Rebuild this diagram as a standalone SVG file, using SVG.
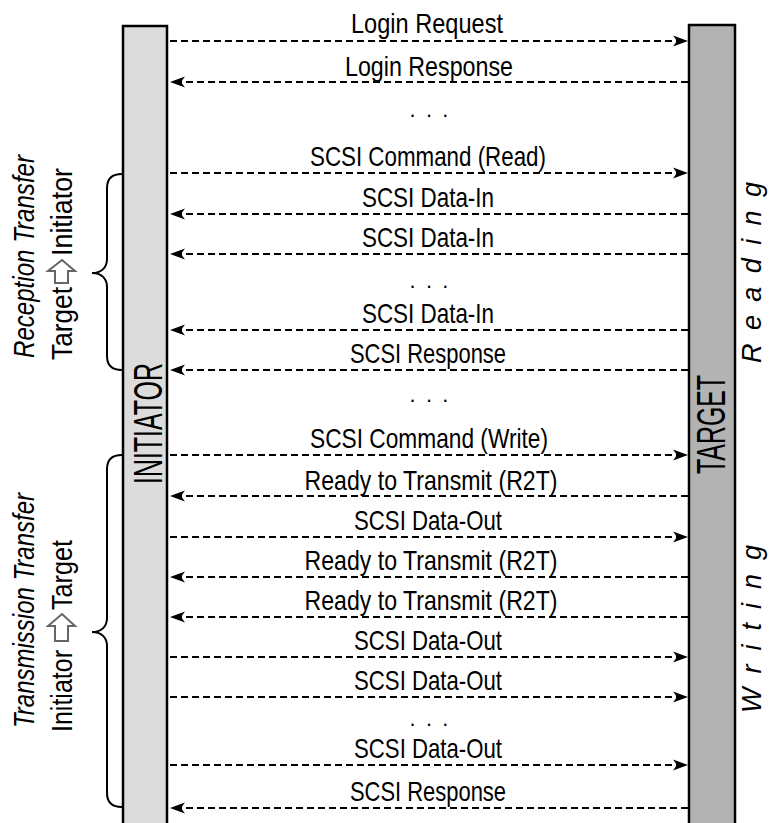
<svg xmlns="http://www.w3.org/2000/svg" width="770" height="823" viewBox="0 0 770 823">
<style>
.bar{stroke:#000;stroke-width:2.5}
.msg{font-family:"Liberation Sans",Arial,sans-serif;font-size:28.5px;fill:#000;text-anchor:middle}
.dots{font-family:"Liberation Sans",Arial,sans-serif;font-size:22px;fill:#000;text-anchor:middle;letter-spacing:2.1px}
.conn{fill:none;stroke:#000;stroke-width:2;stroke-dasharray:7 4}
.big{font-family:"Liberation Sans",Arial,sans-serif;font-size:40px;fill:#000}
.side{font-family:"Liberation Sans",Arial,sans-serif;font-size:27px;font-style:italic;fill:#000}
.lab{font-family:"Liberation Sans",Arial,sans-serif;font-size:30px;fill:#000}
.labi{font-family:"Liberation Sans",Arial,sans-serif;font-size:30px;font-style:italic;fill:#000}
.brace{fill:none;stroke:#000;stroke-width:2}
.harrow{fill:#fff;stroke:#666;stroke-width:2;stroke-linejoin:miter}
</style>
<defs>
<marker id="ah" markerUnits="userSpaceOnUse" orient="auto" refX="0" refY="0" markerWidth="20" markerHeight="14" overflow="visible">
<path d="M8,0 L-7,-5.5 L-3,0 L-7,5.5 Z" fill="#000"/>
</marker>
</defs>

<g id="initiator">
<rect class="bar" x="123" y="26" width="44" height="820" fill="#dcdcdc"/>
<text class="big" transform="translate(162,484) rotate(-90)" textLength="121" lengthAdjust="spacingAndGlyphs">INITIATOR</text>
</g>
<g id="target">
<rect class="bar" x="689" y="25" width="46" height="820" fill="#b3b3b3"/>
<text class="big" transform="translate(725,474) rotate(-90)" textLength="99" lengthAdjust="spacingAndGlyphs">TARGET</text>
</g>

<g id="connectors">
<path class="conn" d="M170,41 H680" marker-end="url(#ah)"/>
<path class="conn" d="M688,82 H178" marker-end="url(#ah)"/>
<path class="conn" d="M170,173 H680" marker-end="url(#ah)"/>
<path class="conn" d="M688,214 H178" marker-end="url(#ah)"/>
<path class="conn" d="M688,254 H178" marker-end="url(#ah)"/>
<path class="conn" d="M688,330 H178" marker-end="url(#ah)"/>
<path class="conn" d="M688,370 H178" marker-end="url(#ah)"/>
<path class="conn" d="M170,455 H680" marker-end="url(#ah)"/>
<path class="conn" d="M688,496 H178" marker-end="url(#ah)"/>
<path class="conn" d="M170,537 H680" marker-end="url(#ah)"/>
<path class="conn" d="M688,577 H178" marker-end="url(#ah)"/>
<path class="conn" d="M688,617 H178" marker-end="url(#ah)"/>
<path class="conn" d="M170,657 H680" marker-end="url(#ah)"/>
<path class="conn" d="M170,697 H680" marker-end="url(#ah)"/>
<path class="conn" d="M170,765 H680" marker-end="url(#ah)"/>
<path class="conn" d="M688,808 H178" marker-end="url(#ah)"/>
</g>

<g id="labels">
<text class="msg" x="427" y="33" textLength="152" lengthAdjust="spacingAndGlyphs">Login Request</text>
<text class="msg" x="429" y="76" textLength="168" lengthAdjust="spacingAndGlyphs">Login Response</text>
<text class="dots" x="430" y="117">. . .</text>
<text class="msg" x="428" y="166" textLength="236" lengthAdjust="spacingAndGlyphs">SCSI Command (Read)</text>
<text class="msg" x="428" y="207" textLength="132" lengthAdjust="spacingAndGlyphs">SCSI Data-In</text>
<text class="msg" x="428" y="247" textLength="132" lengthAdjust="spacingAndGlyphs">SCSI Data-In</text>
<text class="dots" x="430" y="288">. . .</text>
<text class="msg" x="428" y="323" textLength="132" lengthAdjust="spacingAndGlyphs">SCSI Data-In</text>
<text class="msg" x="428" y="363" textLength="156" lengthAdjust="spacingAndGlyphs">SCSI Response</text>
<text class="dots" x="430" y="402">. . .</text>
<text class="msg" x="429" y="448" textLength="238" lengthAdjust="spacingAndGlyphs">SCSI Command (Write)</text>
<text class="msg" x="431" y="490" textLength="253" lengthAdjust="spacingAndGlyphs">Ready to Transmit (R2T)</text>
<text class="msg" x="428" y="530" textLength="148" lengthAdjust="spacingAndGlyphs">SCSI Data-Out</text>
<text class="msg" x="431" y="570" textLength="253" lengthAdjust="spacingAndGlyphs">Ready to Transmit (R2T)</text>
<text class="msg" x="431" y="610" textLength="253" lengthAdjust="spacingAndGlyphs">Ready to Transmit (R2T)</text>
<text class="msg" x="428" y="650" textLength="148" lengthAdjust="spacingAndGlyphs">SCSI Data-Out</text>
<text class="msg" x="428" y="690" textLength="148" lengthAdjust="spacingAndGlyphs">SCSI Data-Out</text>
<text class="dots" x="430" y="726">. . .</text>
<text class="msg" x="428" y="758" textLength="148" lengthAdjust="spacingAndGlyphs">SCSI Data-Out</text>
<text class="msg" x="428" y="801" textLength="156" lengthAdjust="spacingAndGlyphs">SCSI Response</text>
</g>

<g id="reading">
<text class="side" transform="translate(761,363) rotate(-90)" textLength="181" lengthAdjust="spacing">Reading</text>
</g>
<g id="writing">
<text class="side" transform="translate(761,713) rotate(-90)" textLength="168" lengthAdjust="spacing">Writing</text>
</g>

<g id="reception">
<path class="brace" d="M122,174 C112,174 107,178 107,188 L107,259 C107,268 101,273 92,273 C101,273 107,278 107,287 L107,356 C107,366 112,370 122,370"/>
<text class="labi" transform="translate(34,358) rotate(-90)" textLength="203" lengthAdjust="spacingAndGlyphs">Reception Transfer</text>
<text class="lab" transform="translate(72,360) rotate(-90)" textLength="73" lengthAdjust="spacingAndGlyphs">Target</text>
<polygon class="harrow" points="62,260 75,271 68,271 68,283 55,283 55,271 48,271"/>
<text class="lab" transform="translate(72,256) rotate(-90)" textLength="88" lengthAdjust="spacingAndGlyphs">Initiator</text>
</g>

<g id="transmission">
<path class="brace" d="M122,455 C112,455 107,459 107,469 L107,618 C107,627 101,632 92,632 C101,632 107,637 107,646 L107,793 C107,803 112,807 122,807"/>
<text class="labi" transform="translate(34,728) rotate(-90)" textLength="235" lengthAdjust="spacingAndGlyphs">Transmission Transfer</text>
<text class="lab" transform="translate(72,732) rotate(-90)" textLength="82" lengthAdjust="spacingAndGlyphs">Initiator</text>
<polygon class="harrow" points="62,614 75,626 68,626 68,641 55,641 55,626 48,626"/>
<text class="lab" transform="translate(72,610) rotate(-90)" textLength="70" lengthAdjust="spacingAndGlyphs">Target</text>
</g>
</svg>
